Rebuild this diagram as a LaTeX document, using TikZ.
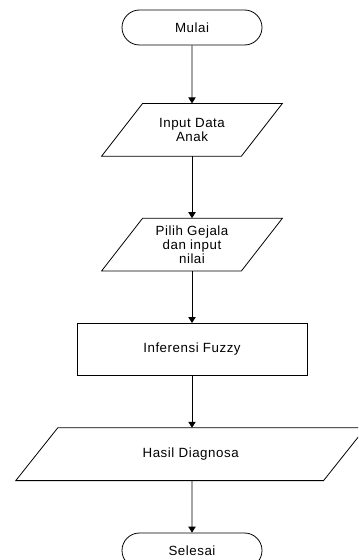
\documentclass[tikz,border=0pt]{standalone}
\usepackage{fontspec}
\setmainfont{Liberation Sans}[LetterSpace=4]
\usetikzlibrary{positioning,shapes.misc,arrows.meta}

\newcommand{\slantbox}[2]{%
	\draw ([xshift=#2]#1.north west) -- ([xshift=#2]#1.north east)
		-- ([xshift=-#2]#1.south east) -- ([xshift=-#2]#1.south west) -- cycle;}

\begin{document}
\begin{tikzpicture}[x=0.75pt,y=-0.75pt,line width=0.6pt,
	font=\fontsize{10}{9}\selectfont,
	term/.style={draw, rounded rectangle, minimum width=105pt, minimum height=26.25pt, inner sep=0pt},
	io/.style={rectangle, minimum height=39pt, inner sep=0pt, align=center},
	proc/.style={draw, rectangle, minimum width=172.5pt, minimum height=39pt},
	flow/.style={-{Triangle[width=5.5pt,length=4.5pt]}}]
	\useasboundingbox (0,0) rectangle (358,560);
	\clip (0,0) rectangle (358,560);

	\node[term] (mulai) at (192,27.5) {Mulai};
	\node[io, minimum width=104.25pt, below=43.5pt of mulai] (input) {Input Data\\Anak};
	\node[io, minimum width=104.25pt, below=46.5pt of input] (gejala) {Pilih Gejala\\dan input\\nilai};
	\node[proc, below=39pt of gejala] (fuzzy) {Inferensi Fuzzy};
	\node[io, minimum width=230.25pt, below=39pt of fuzzy, xshift=-1pt] (hasil) {Hasil Diagnosa};
	\node[term, below=39pt of hasil.south -| fuzzy.south] (selesai) {Selesai};

	\slantbox{input}{15.4pt}
	\slantbox{gejala}{15.4pt}
	\slantbox{hasil}{15.75pt}

	\draw[flow] (mulai) -- (input);
	\draw[flow] (input) -- (gejala);
	\draw[flow] (gejala) -- (fuzzy);
	\draw[flow] (fuzzy) -- (fuzzy |- hasil.north);
	\draw[flow] (fuzzy |- hasil.south) -- (selesai);
\end{tikzpicture}
\end{document}
